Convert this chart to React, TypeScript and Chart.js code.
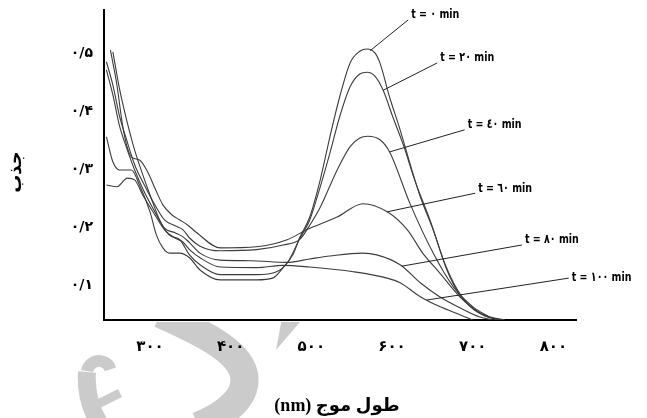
import { useEffect, useRef } from "react";
import { Chart, registerables } from "chart.js";

Chart.register(...registerables);

// Absorption spectra of the dye solution sampled at several irradiation times.
const timeLabels = ["t = ۰ min", "t = ۲۰ min", "t = ٤٠ min", "t = ٦٠ min", "t = ۸۰ min", "t = ۱۰۰ min"];

const nm0 = [246, 254, 262, 277, 287, 300, 308, 316, 324, 337, 349, 362, 387, 432, 452, 465, 477, 486, 498, 511, 523, 535, 548, 560, 569, 579, 585, 597, 610, 622, 635, 651, 668, 684, 703, 722, 740];
const abs0 = [0.356, 0.313, 0.299, 0.299, 0.273, 0.227, 0.187, 0.165, 0.156, 0.156, 0.148, 0.127, 0.11, 0.11, 0.113, 0.131, 0.153, 0.184, 0.218, 0.282, 0.356, 0.424, 0.483, 0.503, 0.507, 0.5, 0.483, 0.424, 0.368, 0.311, 0.253, 0.196, 0.127, 0.084, 0.058, 0.046, 0.041];

const nm20 = [254, 262, 271, 281, 291, 300, 312, 324, 337, 349, 362, 387, 432, 457, 470, 486, 498, 511, 523, 535, 548, 560, 569, 579, 589, 601, 614, 628, 647, 666, 681, 697, 715, 734];
const abs20 = [0.502, 0.44, 0.385, 0.333, 0.291, 0.256, 0.213, 0.187, 0.179, 0.153, 0.136, 0.119, 0.119, 0.124, 0.139, 0.182, 0.213, 0.27, 0.328, 0.39, 0.442, 0.464, 0.467, 0.46, 0.436, 0.39, 0.342, 0.282, 0.213, 0.136, 0.093, 0.064, 0.048, 0.041];

const nm40 = [246, 254, 262, 271, 281, 293, 306, 318, 331, 341, 349, 362, 387, 432, 465, 486, 498, 511, 532, 548, 560, 570, 585, 597, 622, 651, 676, 700, 722];
const abs40 = [0.485, 0.445, 0.393, 0.351, 0.308, 0.273, 0.239, 0.213, 0.203, 0.196, 0.182, 0.168, 0.16, 0.162, 0.17, 0.18, 0.204, 0.235, 0.299, 0.339, 0.354, 0.357, 0.351, 0.33, 0.242, 0.156, 0.098, 0.064, 0.045];

const nm60 = [251, 259, 266, 271, 277, 287, 297, 306, 316, 327, 337, 347, 358, 387, 432, 470, 494, 532, 564, 594, 619, 638, 659, 684, 709, 730];
const abs60 = [0.505, 0.445, 0.376, 0.342, 0.321, 0.316, 0.296, 0.268, 0.239, 0.222, 0.213, 0.204, 0.191, 0.165, 0.167, 0.179, 0.196, 0.218, 0.241, 0.227, 0.196, 0.156, 0.122, 0.081, 0.053, 0.041];

const nm80 = [246, 254, 262, 271, 281, 293, 306, 318, 331, 341, 349, 362, 387, 424, 470, 498, 523, 563, 581, 610, 635, 659, 684, 709, 725];
const abs80 = [0.471, 0.428, 0.376, 0.337, 0.299, 0.261, 0.227, 0.199, 0.191, 0.184, 0.174, 0.156, 0.144, 0.143, 0.14, 0.146, 0.151, 0.156, 0.153, 0.136, 0.105, 0.081, 0.062, 0.046, 0.041];

const nm100 = [246, 259, 272, 281, 291, 306, 318, 331, 341, 349, 362, 387, 432, 465, 498, 552, 594, 610, 635, 659, 684, 700];
const abs100 = [0.273, 0.27, 0.285, 0.282, 0.256, 0.222, 0.196, 0.182, 0.175, 0.162, 0.148, 0.132, 0.131, 0.135, 0.132, 0.124, 0.113, 0.105, 0.081, 0.064, 0.05, 0.041];

const seriesNm = [nm0, nm20, nm40, nm60, nm80, nm100];
const seriesAbs = [abs0, abs20, abs40, abs60, abs80, abs100];

// Leader lines: wavelength where each leader touches its curve, and where it ends.
const leaderCurveNm = [573, 589, 597, 594, 612, 643];
const leaderEndNm = [620, 656, 690, 703, 761, 819];
const leaderEndAbs = [0.557, 0.483, 0.368, 0.259, 0.17, 0.113];

const xTicks = [300, 400, 500, 600, 700, 800];
const yTicks = [0.1, 0.2, 0.3, 0.4, 0.5];
const xRange = [243, 828];
const yRange = [0.041, 0.574];

const xTitle = "طول موج (nm)";
const yTitle = "جذب";

const faDigits = "۰۱۲۳۴۵۶۷۸۹";
const toFa = (s: string) => s.replace(/\d/g, (d) => faDigits[+d]).replace(".", "/");

const interp = (xs: number[], ys: number[], x: number) => {
  for (let i = 0; i < xs.length - 1; i++) {
    if (x >= xs[i] && x <= xs[i + 1]) {
      const t = (x - xs[i]) / (xs[i + 1] - xs[i]);
      return ys[i] + t * (ys[i + 1] - ys[i]);
    }
  }
  return ys[ys.length - 1];
};

const watermark = {
  id: "watermark",
  beforeDraw(chart: any) {
    const { ctx, chartArea } = chart;
    ctx.save();
    ctx.beginPath();
    ctx.rect(0, chartArea.bottom + 2, chart.width, chart.height);
    ctx.clip();
    ctx.strokeStyle = "#cbcbcb";
    ctx.fillStyle = "#cbcbcb";
    ctx.lineCap = "butt";
    // large curved stroke
    ctx.lineWidth = 28;
    ctx.beginPath();
    ctx.moveTo(160, 314);
    ctx.bezierCurveTo(215, 338, 255, 360, 242, 392);
    ctx.quadraticCurveTo(232, 412, 198, 426);
    ctx.stroke();
    // tapered tail at the right
    ctx.beginPath();
    ctx.moveTo(282, 318);
    ctx.lineTo(300, 322);
    ctx.lineTo(276, 350);
    ctx.closePath();
    ctx.fill();
    // small curled letter at the left
    ctx.lineWidth = 12;
    ctx.beginPath();
    ctx.arc(99, 373, 12, Math.PI * 1.05, Math.PI * 1.9);
    ctx.stroke();
    ctx.lineWidth = 18;
    ctx.beginPath();
    ctx.moveTo(87, 372);
    ctx.quadraticCurveTo(85, 400, 100, 425);
    ctx.stroke();
    ctx.lineWidth = 9;
    ctx.beginPath();
    ctx.moveTo(94, 406);
    ctx.lineTo(120, 393);
    ctx.stroke();
    ctx.restore();
  },
};

const annotations = {
  id: "annotations",
  afterDraw(chart: any) {
    const { ctx } = chart;
    const xs = chart.scales.x;
    const ys = chart.scales.y;
    ctx.save();
    ctx.strokeStyle = "#222";
    ctx.lineWidth = 1;
    ctx.fillStyle = "#000";
    ctx.font = "bold 12px 'DejaVu Sans Condensed', 'DejaVu Sans', sans-serif";
    ctx.textAlign = "left";
    ctx.textBaseline = "middle";
    timeLabels.forEach((label, i) => {
      const ax = xs.getPixelForValue(leaderCurveNm[i]);
      const ay = ys.getPixelForValue(interp(seriesNm[i], seriesAbs[i], leaderCurveNm[i]));
      const bx = xs.getPixelForValue(leaderEndNm[i]);
      const by = ys.getPixelForValue(leaderEndAbs[i]);
      ctx.beginPath();
      ctx.moveTo(ax, ay);
      ctx.lineTo(bx, by);
      ctx.stroke();
      ctx.save();
      ctx.translate(bx + 3, by - (i === 5 ? 0 : 5));
      ctx.scale(0.88, 1.08);
      ctx.fillText(label, 0, 0);
      ctx.restore();
    });

    // axis titles
    ctx.font = "bold 18px 'Liberation Serif', 'DejaVu Sans', serif";
    ctx.textAlign = "center";
    ctx.direction = "rtl";
    ctx.fillText(xTitle, 337, 406);
    ctx.save();
    ctx.translate(16, 172);
    ctx.rotate(-Math.PI / 2);
    ctx.fillText(yTitle, 0, 0);
    ctx.restore();
    ctx.restore();
  },
};

const noEdgePadding = (s: any) => {
  s.paddingTop = 0;
  s.paddingBottom = 0;
  s.paddingLeft = 0;
  s.paddingRight = 0;
};

export default function App() {
  const ref = useRef<HTMLCanvasElement | null>(null);

  useEffect(() => {
    document.body.style.margin = "0";
    const canvas = ref.current;
    if (!canvas) return;
    const chart = new Chart(canvas, {
      type: "line",
      data: {
        datasets: seriesNm.map((xsArr, i) => ({
          label: timeLabels[i],
          data: xsArr.map((x, j) => ({ x, y: seriesAbs[i][j] })),
          borderColor: "#3c3c3c",
          borderWidth: 1.1,
          pointRadius: 0,
          fill: false,
          cubicInterpolationMode: "monotone" as const,
        })),
      },
      options: {
        responsive: false,
        animation: false,
        events: [],
        layout: { padding: { left: 0, top: 10, right: 71, bottom: 0 } },
        plugins: { legend: { display: false }, tooltip: { enabled: false } },
        scales: {
          x: {
            type: "linear",
            min: xRange[0],
            max: xRange[1],
            afterBuildTicks: (s: any) => {
              s.ticks = xTicks.map((v) => ({ value: v }));
            },
            afterFit: (s: any) => {
              s.height = 98;
              noEdgePadding(s);
            },
            grid: { display: false, drawTicks: false, tickLength: 0 },
            border: { display: true, color: "#000", width: 2 },
            ticks: {
              autoSkip: false,
              maxRotation: 0,
              padding: 18,
              color: "#000",
              font: { family: "'DejaVu Sans', sans-serif", size: 15, weight: "bold" },
              callback: (v: any) => toFa(String(v)),
            },
          },
          y: {
            type: "linear",
            min: yRange[0],
            max: yRange[1],
            afterBuildTicks: (s: any) => {
              s.ticks = yTicks.map((v) => ({ value: v }));
            },
            afterFit: (s: any) => {
              s.width = 104;
              noEdgePadding(s);
            },
            grid: { display: false, drawTicks: false, tickLength: 0 },
            border: { display: true, color: "#000", width: 2 },
            ticks: {
              padding: 11,
              color: "#000",
              font: { family: "'DejaVu Sans', sans-serif", size: 14, weight: "bold" },
              callback: (v: any) => toFa(Number(v).toFixed(1)),
            },
          },
        },
      },
      plugins: [watermark, annotations],
    });
    return () => chart.destroy();
  }, []);

  return (
    <div style={{ position: "fixed", left: 0, top: 0, width: 647, height: 418, background: "#fff" }}>
      <canvas ref={ref} width={647} height={418} style={{ display: "block" }} />
    </div>
  );
}
